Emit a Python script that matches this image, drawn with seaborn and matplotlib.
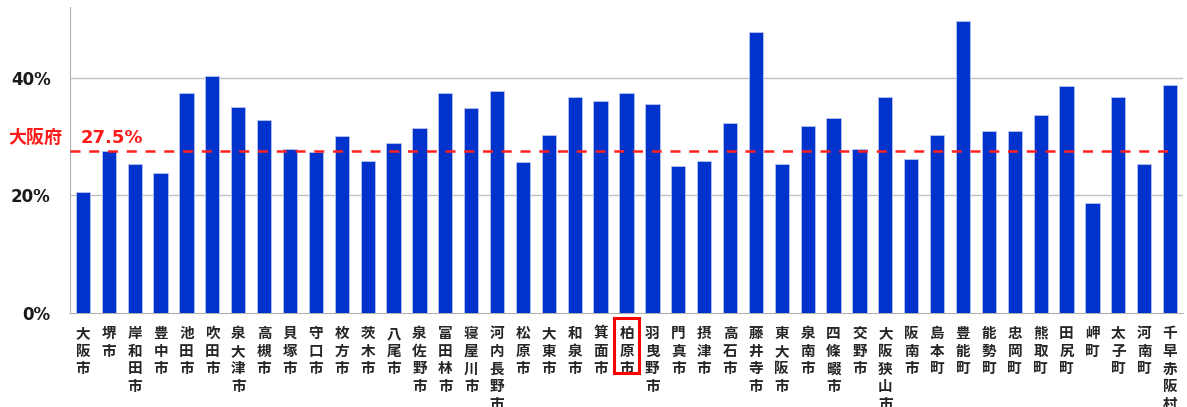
import matplotlib
matplotlib.use("Agg")
import matplotlib.pyplot as plt
import matplotlib.transforms as mtransforms
from matplotlib.patches import Rectangle
import seaborn as sns
import numpy as np
import pandas as pd

# data (% values)
cities = ["大阪市", "堺市", "岸和田市", "豊中市", "池田市", "吹田市", "泉大津市", "高槻市",
          "貝塚市", "守口市", "枚方市", "茨木市", "八尾市", "泉佐野市", "富田林市", "寝屋川市",
          "河内長野市", "松原市", "大東市", "和泉市", "箕面市", "柏原市", "羽曳野市", "門真市",
          "摂津市", "高石市", "藤井寺市", "東大阪市", "泉南市", "四條畷市", "交野市", "大阪狭山市",
          "阪南市", "島本町", "豊能町", "能勢町", "忠岡町", "熊取町", "田尻町", "岬町",
          "太子町", "河南町", "千早赤阪村"]
rates = [20.6, 27.5, 25.4, 23.8, 37.4, 40.3, 35.0, 32.8,
         27.8, 27.4, 30.1, 25.9, 28.9, 31.5, 37.4, 34.9,
         37.8, 25.7, 30.3, 36.7, 36.1, 37.4, 35.5, 25.0,
         25.9, 32.3, 47.8, 25.4, 31.7, 33.2, 27.9, 36.7,
         26.1, 30.3, 49.7, 31.0, 31.0, 33.6, 38.5, 18.7,
         36.7, 25.4, 38.7]
pref_avg = 27.5
pref_name = "大阪府"
pref_value = "27.5%"
highlight = "柏原市"
yticks = [0, 20, 40]

df = pd.DataFrame({"city": cities, "rate": rates})

sns.set_style("white")
plt.rcParams['font.family'] = ['Noto Sans CJK JP', 'DejaVu Sans']

fig = plt.figure(figsize=(11.87, 4.07), dpi=100)
ax = fig.add_axes([70/1187, 1-313/407, 1113/1187, 306/407])

sns.barplot(data=df, x="city", y="rate", color="#0033cc", width=0.55,
            saturation=1, edgecolor="#b8c4f0", linewidth=0.6, ax=ax, zorder=3)

ax.set_xlim(-0.5, len(cities) - 0.5)
ax.set_ylim(0, 52)
ax.set_yticks(yticks)
ax.set_yticklabels([f"{v}%" for v in yticks], fontsize=12, fontweight="bold",
                   family="DejaVu Sans", color="#1a1a1a")
for y in yticks[1:]:
    ax.axhline(y, color="#c0c0c0", lw=1, zorder=1)

# vertical stacked category labels
ax.set_xticks(range(len(cities)))
ax.set_xticklabels(["\n".join(c) for c in cities], fontsize=10.5, fontweight="bold",
                   linespacing=1.14, va="top")
ax.tick_params(axis="x", which="major", length=0, pad=8.5)
ax.set_xticks(np.arange(-0.5, len(cities)), minor=True)
ax.tick_params(axis="x", which="minor", length=5, color="#b0b0b0", width=1)
ax.tick_params(axis="y", length=5, color="#b0b0b0", width=1, pad=9)
ax.set_xlabel("")
ax.set_ylabel("")

sns.despine(ax=ax, top=True, right=True)
ax.spines["left"].set_color("#b0b0b0")
ax.spines["bottom"].set_color("#b0b0b0")

# prefecture average line and label
ax.axhline(pref_avg, xmin=0, xmax=0.988, color="#ff2020", ls=(0, (4, 3.5)),
           lw=1.8, zorder=4)
fig.text(8/1187, 1-143/407, pref_name, color="#ff1a1a", fontsize=13, fontweight="bold",
         va="baseline", ha="left")
fig.text(81/1187, 1-143/407, pref_value, color="#ff1a1a", fontsize=13, fontweight="bold",
         family="DejaVu Sans", va="baseline", ha="left")

# red box around highlighted city label
idx = cities.index(highlight)
trans = mtransforms.blended_transform_factory(ax.transData, ax.transAxes)
ax.add_patch(Rectangle((idx - 0.5, -0.196), 1.0, 0.18, transform=trans, fill=False,
                       edgecolor="#ff0000", lw=2.2, clip_on=False, zorder=5))

fig.savefig("out.png", dpi=100)
